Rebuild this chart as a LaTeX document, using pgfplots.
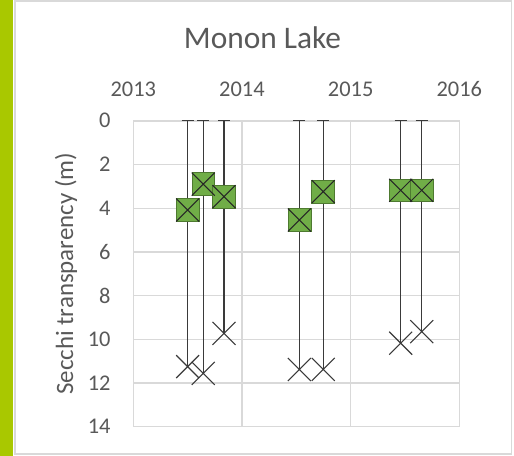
\documentclass[border=0pt]{standalone}
\usepackage{pgfplots}
\pgfplotsset{compat=1.18}
\usepackage{pgfplotstable}
\usepackage{fontspec}
\setmainfont{Carlito}
\definecolor{txt}{HTML}{595959}
\definecolor{gridc}{HTML}{D9D9D9}
\definecolor{mk}{HTML}{70AD47}
\definecolor{mkb}{HTML}{4E7A30}
\definecolor{side}{HTML}{A9C800}
\definecolor{barc}{HTML}{3A3A3A}

\pgfplotstableread{
x        y
2013.500 4.08
2013.644 2.90
2013.835 3.47
2014.528 4.54
2014.748 3.24
2015.461 3.18
2015.654 3.18
}\secchi

\pgfplotstableread{
x        y     e
2013.500 11.25 11.25
2013.644 11.56 11.56
2013.835 9.73  9.73
2014.528 11.38 11.38
2014.748 11.38 11.38
2015.461 10.18 10.18
2015.654 9.65  9.65
}\depth

\begin{document}
\begin{tikzpicture}
\path[use as bounding box] (0bp,0bp) rectangle (514bp,456bp);
\fill[white] (0bp,0bp) rectangle (514bp,456bp);
\fill[side] (0bp,0bp) rectangle (13.3bp,456bp);
\draw[gridc, line width=1.5bp] (14.8bp,2bp) rectangle (511.5bp,455bp);
\node[txt, font=\fontsize{31.5}{36}\selectfont] at (262.5bp,418bp) {Monon Lake};
\begin{axis}[
  at={(133.3bp,29.3bp)}, anchor=south west,
  width=326bp, height=305.9bp, scale only axis,
  axis lines=box,
  xmin=2013, xmax=2016, ymin=0, ymax=14, y dir=reverse,
  xtick={2013,2014,2015,2016}, xticklabels={2013,2014,2015,2016},
  ytick={0,2,...,14},
  xticklabel pos=upper,
  /pgf/number format/assume math mode=true,
  major tick length=0pt,
  grid=major,
  grid style={gridc, line width=1.4bp},
  axis line style={gridc, line width=1.4bp},
  tick label style={txt, font=\fontsize{22.5}{26}\selectfont},
  xticklabel style={inner sep=0pt, anchor=south, yshift=23.5bp},
  yticklabel style={inner sep=0pt, anchor=east, xshift=-22.6bp},
  ylabel={Secchi transparency (m)},
  every axis y label/.style={at={(rel axis cs:0,0.5)}, xshift=-67.3bp, rotate=90, anchor=center, txt, font=\fontsize{25}{30}\selectfont},
  clip=false,
]
\draw[gridc, line width=1.4bp] (rel axis cs:0,0) rectangle (rel axis cs:1,1);
\addplot[only marks, mark=x, mark size=16.3pt,
  mark options={barc, line width=1.1bp},
  error bars/.cd, y dir=minus, y explicit,
  error bar style={barc, line width=1.1bp},
  error mark options={barc, rotate=90, mark size=6bp, line width=1.1bp}]
  table[x=x, y=y, y error minus=e] {\depth};
\addplot[only marks, mark=square*, mark size=11.5pt,
  mark options={fill=mk, draw=mkb, line width=0.6bp}]
  table[x=x, y=y] {\secchi};
\addplot[only marks, mark=x, mark size=16.3pt,
  mark options={black!85, line width=1bp}]
  table[x=x, y=y] {\secchi};
\end{axis}
\end{tikzpicture}
\end{document}
